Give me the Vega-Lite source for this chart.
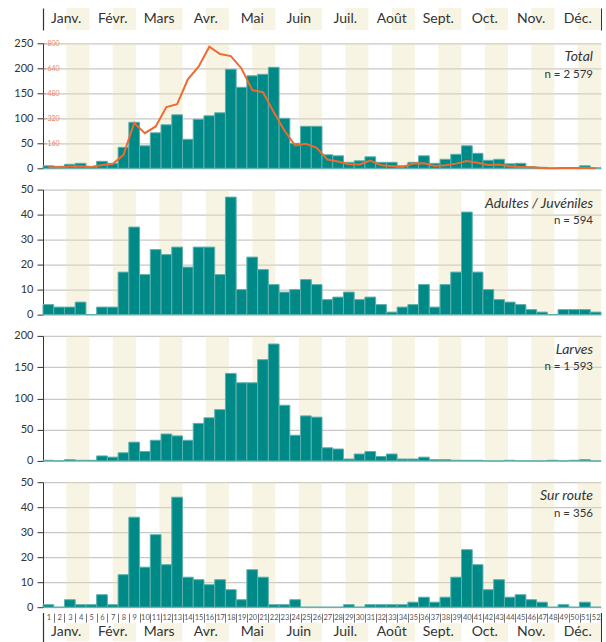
{
  "$schema": "https://vega.github.io/schema/vega-lite/v6.json",
  "padding": {"left": 13, "top": 7, "right": 0, "bottom": 0},
  "background": "white",
  "config": {
    "view": {"stroke": null},
    "font": "Lato",
    "axis": {"title": null, "domainColor": "#333", "tickColor": "#333", "labelColor": "#333", "labelFont": "Lato", "labelFontSize": 11, "tickSize": 6, "labelPadding": 4, "gridColor": "#c8c8c8", "gridWidth": 1.2},
    "title": {"anchor": "end", "orient": "top", "frame": "group", "offset": -43, "dx": -8, "font": "Lato", "fontStyle": "italic", "fontWeight": "normal", "fontSize": 14, "color": "#333", "subtitleFont": "Lato", "subtitleFontSize": 11.5, "subtitleColor": "#333", "subtitlePadding": 4.5}
  },
  "datasets": {
    "months": [
      {"month": "Janv."}, {"month": "Févr."}, {"month": "Mars"}, {"month": "Avr."}, {"month": "Mai"}, {"month": "Juin"},
      {"month": "Juil."}, {"month": "Août"}, {"month": "Sept."}, {"month": "Oct."}, {"month": "Nov."}, {"month": "Déc."}
    ],
    "weeks": [
      {"week": 1, "total": 5, "reference": 6, "adultes": 4, "larves": 1, "route": 1},
      {"week": 2, "total": 4, "reference": 6, "adultes": 3, "larves": 0, "route": 0},
      {"week": 3, "total": 8, "reference": 11, "adultes": 3, "larves": 2, "route": 3},
      {"week": 4, "total": 10, "reference": 13, "adultes": 5, "larves": 1, "route": 1},
      {"week": 5, "total": 3, "reference": 9, "adultes": 0, "larves": 1, "route": 1},
      {"week": 6, "total": 14, "reference": 21, "adultes": 3, "larves": 8, "route": 5},
      {"week": 7, "total": 10, "reference": 28, "adultes": 3, "larves": 6, "route": 1},
      {"week": 8, "total": 42, "reference": 86, "adultes": 17, "larves": 13, "route": 13},
      {"week": 9, "total": 92, "reference": 290, "adultes": 35, "larves": 30, "route": 36},
      {"week": 10, "total": 45, "reference": 225, "adultes": 16, "larves": 15, "route": 16},
      {"week": 11, "total": 71, "reference": 268, "adultes": 26, "larves": 33, "route": 29},
      {"week": 12, "total": 87, "reference": 392, "adultes": 24, "larves": 43, "route": 17},
      {"week": 13, "total": 107, "reference": 410, "adultes": 27, "larves": 40, "route": 44},
      {"week": 14, "total": 58, "reference": 570, "adultes": 19, "larves": 33, "route": 12},
      {"week": 15, "total": 98, "reference": 650, "adultes": 27, "larves": 60, "route": 11},
      {"week": 16, "total": 105, "reference": 778, "adultes": 27, "larves": 69, "route": 9},
      {"week": 17, "total": 111, "reference": 731, "adultes": 16, "larves": 82, "route": 11},
      {"week": 18, "total": 198, "reference": 718, "adultes": 47, "larves": 140, "route": 7},
      {"week": 19, "total": 162, "reference": 639, "adultes": 10, "larves": 125, "route": 3},
      {"week": 20, "total": 185, "reference": 500, "adultes": 23, "larves": 125, "route": 15},
      {"week": 21, "total": 188, "reference": 487, "adultes": 18, "larves": 162, "route": 12},
      {"week": 22, "total": 202, "reference": 360, "adultes": 12, "larves": 187, "route": 1},
      {"week": 23, "total": 100, "reference": 242, "adultes": 9, "larves": 89, "route": 1},
      {"week": 24, "total": 50, "reference": 146, "adultes": 10, "larves": 41, "route": 3},
      {"week": 25, "total": 84, "reference": 157, "adultes": 14, "larves": 72, "route": 0},
      {"week": 26, "total": 84, "reference": 131, "adultes": 12, "larves": 70, "route": 0},
      {"week": 27, "total": 27, "reference": 56, "adultes": 6, "larves": 21, "route": 0},
      {"week": 28, "total": 25, "reference": 43, "adultes": 7, "larves": 19, "route": 0},
      {"week": 29, "total": 12, "reference": 26, "adultes": 9, "larves": 3, "route": 1},
      {"week": 30, "total": 15, "reference": 24, "adultes": 6, "larves": 11, "route": 0},
      {"week": 31, "total": 23, "reference": 49, "adultes": 7, "larves": 15, "route": 1},
      {"week": 32, "total": 12, "reference": 19, "adultes": 4, "larves": 7, "route": 1},
      {"week": 33, "total": 12, "reference": 15, "adultes": 1, "larves": 11, "route": 1},
      {"week": 34, "total": 5, "reference": 9, "adultes": 3, "larves": 3, "route": 1},
      {"week": 35, "total": 12, "reference": 30, "adultes": 4, "larves": 3, "route": 2},
      {"week": 36, "total": 25, "reference": 32, "adultes": 12, "larves": 6, "route": 4},
      {"week": 37, "total": 10, "reference": 15, "adultes": 3, "larves": 2, "route": 2},
      {"week": 38, "total": 18, "reference": 19, "adultes": 12, "larves": 2, "route": 4},
      {"week": 39, "total": 28, "reference": 30, "adultes": 17, "larves": 1, "route": 12},
      {"week": 40, "total": 45, "reference": 47, "adultes": 41, "larves": 1, "route": 23},
      {"week": 41, "total": 30, "reference": 36, "adultes": 17, "larves": 1, "route": 17},
      {"week": 42, "total": 16, "reference": 21, "adultes": 10, "larves": 0, "route": 7},
      {"week": 43, "total": 18, "reference": 24, "adultes": 6, "larves": 0, "route": 11},
      {"week": 44, "total": 9, "reference": 13, "adultes": 5, "larves": 1, "route": 4},
      {"week": 45, "total": 10, "reference": 9, "adultes": 4, "larves": 0, "route": 5},
      {"week": 46, "total": 3, "reference": 6, "adultes": 2, "larves": 0, "route": 3},
      {"week": 47, "total": 2, "reference": 2, "adultes": 1, "larves": 0, "route": 2},
      {"week": 48, "total": 0, "reference": 0, "adultes": 0, "larves": 1, "route": 0},
      {"week": 49, "total": 1, "reference": 2, "adultes": 2, "larves": 0, "route": 1},
      {"week": 50, "total": 1, "reference": 2, "adultes": 2, "larves": 1, "route": 0},
      {"week": 51, "total": 5, "reference": 2, "adultes": 2, "larves": 2, "route": 2},
      {"week": 52, "total": 1, "reference": 1, "adultes": 1, "larves": 0, "route": 0}
    ]
  },
  "spacing": 21.3,
  "bounds": "flush",
  "vconcat": [
    {
      "width": 558, "height": 13.4,
      "data": {"name": "months"},
      "layer": [
        {"mark": {"type": "bar", "color": "#f8f4e4"},
         "encoding": {
           "x": {"field": "month", "type": "nominal", "sort": null, "scale": {"paddingInner": 0, "paddingOuter": 0},
                 "axis": {"orient": "top", "values": ["Janv."], "bandPosition": 0, "labels": false, "domain": false, "grid": false, "tickSize": 22, "offset": -22, "tickWidth": 1.2}},
           "xOffset": {"datum": "b", "scale": {"domain": ["a", "b"], "paddingInner": 0, "paddingOuter": 0}},
           "y": {"datum": 0, "scale": {"domain": [0, 1], "range": [22, 0]}, "axis": null},
           "y2": {"datum": 1}
         }},
        {"mark": {"type": "text", "fontSize": 14, "color": "#333"},
         "encoding": {
           "x": {"field": "month", "type": "nominal", "sort": null,
                 "axis": {"orient": "top", "values": ["Déc."], "bandPosition": 1, "labels": false, "domain": false, "grid": false, "tickSize": 22, "offset": -22, "tickWidth": 1.2}},
           "y": {"datum": 0.5, "scale": {"domain": [0, 1], "range": [22, 0]}, "axis": null},
           "text": {"field": "month"}
         }}
      ],
      "resolve": {"axis": {"x": "independent"}}
    },
    {
      "width": 558, "height": 125,
      "title": {"text": "Total", "subtitle": "n = 2\u202f579"},
      "layer": [
        {"data": {"name": "months"}, "mark": {"type": "bar", "color": "#ebe0b2", "opacity": 0.35},
         "encoding": {
           "x": {"field": "month", "type": "nominal", "sort": null, "scale": {"paddingInner": 0, "paddingOuter": 0}, "axis": null},
           "xOffset": {"datum": "b", "scale": {"domain": ["a", "b"], "paddingInner": 0, "paddingOuter": 0}}
         }},
        {"data": {"name": "weeks"}, "mark": {"type": "bar", "color": "#008a87", "stroke": "#5cb0ad", "strokeWidth": 1},
         "encoding": {
           "x": {"field": "week", "type": "ordinal", "scale": {"paddingInner": 0, "paddingOuter": 0}, "axis": null},
           "y": {"field": "total", "type": "quantitative", "scale": {"domain": [0, 250], "nice": false}, "axis": {"values": [0, 50, 100, 150, 200, 250], "grid": true}}
         }},
        {"data": {"name": "weeks"}, "mark": {"type": "line", "color": "#ef6a2e", "strokeWidth": 2},
         "encoding": {
           "x": {"field": "week", "type": "ordinal", "axis": null},
           "y": {"field": "reference", "type": "quantitative", "scale": {"domain": [0, 800], "nice": false}, "axis": {"orient": "left", "values": [160, 320, 480, 640, 800], "grid": false, "domain": false, "tickSize": -3, "labelPadding": -1, "labelAlign": "left", "labelColor": "#f0845a", "tickColor": "#f0845a", "labelFontSize": 7}}
         }}
      ],
      "resolve": {"scale": {"x": "independent", "y": "independent"}}
    },
    {
      "width": 558, "height": 125,
      "title": {"text": "Adultes / Juvéniles", "subtitle": "n = 594"},
      "layer": [
        {"data": {"name": "months"}, "mark": {"type": "bar", "color": "#ebe0b2", "opacity": 0.35},
         "encoding": {
           "x": {"field": "month", "type": "nominal", "sort": null, "scale": {"paddingInner": 0, "paddingOuter": 0}, "axis": null},
           "xOffset": {"datum": "b", "scale": {"domain": ["a", "b"], "paddingInner": 0, "paddingOuter": 0}}
         }},
        {"data": {"name": "weeks"}, "mark": {"type": "bar", "color": "#008a87", "stroke": "#5cb0ad", "strokeWidth": 1},
         "encoding": {
           "x": {"field": "week", "type": "ordinal", "scale": {"paddingInner": 0, "paddingOuter": 0}, "axis": null},
           "y": {"field": "adultes", "type": "quantitative", "scale": {"domain": [0, 50], "nice": false}, "axis": {"values": [0, 10, 20, 30, 40, 50], "grid": true}}
         }}
      ],
      "resolve": {"scale": {"x": "independent"}}
    },
    {
      "width": 558, "height": 125,
      "title": {"text": "Larves", "subtitle": "n = 1\u202f593"},
      "layer": [
        {"data": {"name": "months"}, "mark": {"type": "bar", "color": "#ebe0b2", "opacity": 0.35},
         "encoding": {
           "x": {"field": "month", "type": "nominal", "sort": null, "scale": {"paddingInner": 0, "paddingOuter": 0}, "axis": null},
           "xOffset": {"datum": "b", "scale": {"domain": ["a", "b"], "paddingInner": 0, "paddingOuter": 0}}
         }},
        {"data": {"name": "weeks"}, "mark": {"type": "bar", "color": "#008a87", "stroke": "#5cb0ad", "strokeWidth": 1},
         "encoding": {
           "x": {"field": "week", "type": "ordinal", "scale": {"paddingInner": 0, "paddingOuter": 0}, "axis": null},
           "y": {"field": "larves", "type": "quantitative", "scale": {"domain": [0, 200], "nice": false}, "axis": {"values": [0, 50, 100, 150, 200], "grid": true}}
         }}
      ],
      "resolve": {"scale": {"x": "independent"}}
    },
    {
      "width": 558, "height": 125,
      "title": {"text": "Sur route", "subtitle": "n = 356"},
      "layer": [
        {"data": {"name": "months"}, "mark": {"type": "bar", "color": "#ebe0b2", "opacity": 0.35},
         "encoding": {
           "x": {"field": "month", "type": "nominal", "sort": null, "scale": {"paddingInner": 0, "paddingOuter": 0}, "axis": null},
           "xOffset": {"datum": "b", "scale": {"domain": ["a", "b"], "paddingInner": 0, "paddingOuter": 0}}
         }},
        {"data": {"name": "weeks"}, "mark": {"type": "bar", "color": "#008a87", "stroke": "#5cb0ad", "strokeWidth": 1},
         "encoding": {
           "x": {"field": "week", "type": "ordinal", "scale": {"paddingInner": 0, "paddingOuter": 0},
                 "axis": {"orient": "bottom", "domain": false, "grid": false, "tickBand": "extent", "tickSize": 9, "offset": 6, "labelPadding": -9, "labelFontSize": 7.5, "labelColor": "#555", "tickColor": "#777", "labelAngle": 0, "labelOverlap": false, "labelFlush": false}},
           "y": {"field": "route", "type": "quantitative", "scale": {"domain": [0, 50], "nice": false}, "axis": {"values": [0, 10, 20, 30, 40, 50], "grid": true}}
         }}
      ],
      "resolve": {"scale": {"x": "independent"}}
    },
    {
      "width": 558, "height": 14,
      "data": {"name": "months"},
      "layer": [
        {"mark": {"type": "bar", "color": "#f8f4e4"},
         "encoding": {
           "x": {"field": "month", "type": "nominal", "sort": null, "scale": {"paddingInner": 0, "paddingOuter": 0},
                 "axis": {"orient": "top", "values": ["Janv."], "bandPosition": 0, "labels": false, "domain": false, "grid": false, "tickSize": 29, "offset": -13, "tickWidth": 1.2}},
           "xOffset": {"datum": "b", "scale": {"domain": ["a", "b"], "paddingInner": 0, "paddingOuter": 0}},
           "y": {"datum": 0, "scale": {"domain": [0, 1], "range": [13, -5.3]}, "axis": null},
           "y2": {"datum": 1}
         }},
        {"mark": {"type": "text", "fontSize": 14, "color": "#333"},
         "encoding": {
           "x": {"field": "month", "type": "nominal", "sort": null,
                 "axis": {"orient": "top", "values": ["Déc."], "bandPosition": 1, "labels": false, "domain": false, "grid": false, "tickSize": 29, "offset": -13, "tickWidth": 1.2}},
           "y": {"datum": 0.5, "scale": {"domain": [0, 1], "range": [13, -5.3]}, "axis": null},
           "text": {"field": "month"}
         }}
      ],
      "resolve": {"axis": {"x": "independent"}}
    }
  ]
}
